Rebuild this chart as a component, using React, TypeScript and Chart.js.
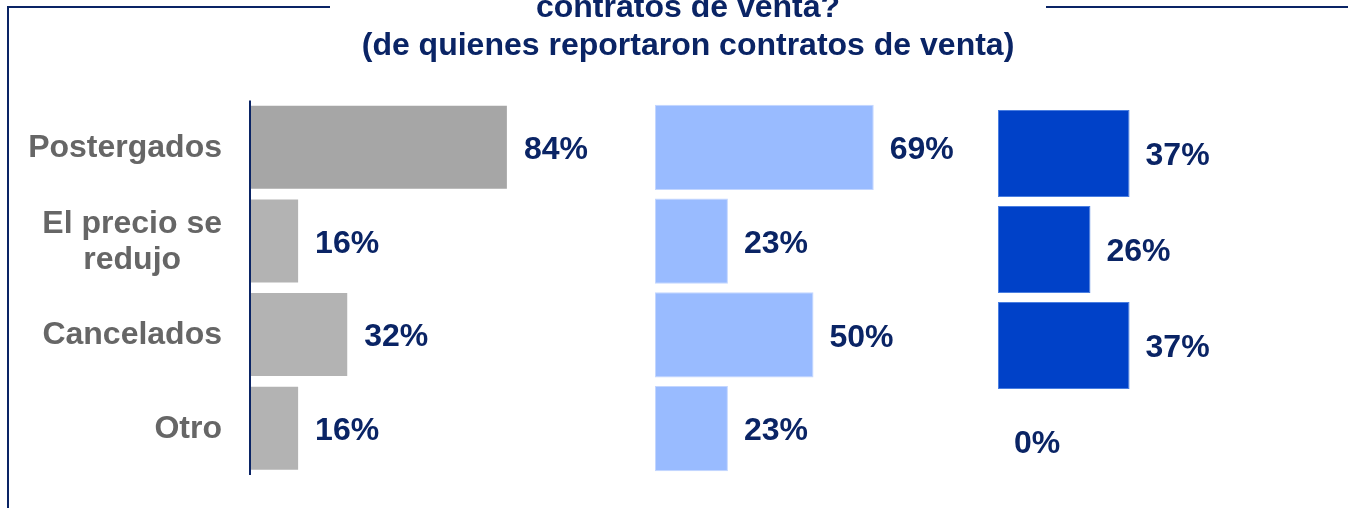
import React, { useEffect, useRef } from 'react';
import { Chart, registerables } from 'chart.js';

Chart.register(...registerables);

// ---- data ----
const categories: string[][] = [['Postergados'], ['El precio se', 'redujo'], ['Cancelados'], ['Otro']];
const seriesA: number[] = [84, 16, 32, 16];
const seriesB: number[] = [69, 23, 50, 23];
const seriesC: number[] = [37, 26, 37, 0];
const titleLines: string[] = ['contratos de venta?', '(de quienes reportaron contratos de venta)'];

const NAVY = '#0a2465';
const FONT = '"Liberation Sans", Arial, sans-serif';

type Panel = {
  data: number[];
  colors: string[];
  border: string;
  left: number;
  width: number;
  pad: { left: number; right: number; top: number; bottom: number };
  max: number;
  bar: number;
  showCats: boolean;
  axisLine: boolean;
};

const panels: Panel[] = [
  {
    data: seriesA,
    colors: ['#A6A6A6', '#B3B3B3', '#B3B3B3', '#B3B3B3'],
    border: 'rgba(0,0,0,0)',
    left: 0,
    width: 640,
    pad: { left: 250, right: 83, top: 100.5, bottom: 33 },
    max: 100,
    bar: 0.907,
    showCats: true,
    axisLine: true,
  },
  {
    data: seriesB,
    colors: ['#99BBFF', '#99BBFF', '#99BBFF', '#99BBFF'],
    border: '#C3D6FF',
    left: 640,
    width: 350,
    pad: { left: 15, right: 18, top: 100.5, bottom: 32.5 },
    max: 100,
    bar: 0.907,
    showCats: false,
    axisLine: false,
  },
  {
    data: seriesC,
    colors: ['#0041C8', '#0041C8', '#0041C8', '#0041C8'],
    border: '#4A7EE0',
    left: 990,
    width: 358,
    pad: { left: 8, right: 30, top: 105.5, bottom: 18.5 },
    max: 90,
    bar: 0.906,
    showCats: false,
    axisLine: false,
  },
];

function makeChart(canvas: HTMLCanvasElement, p: Panel) {
  const valuePlugin = {
    id: 'valueLabels',
    afterDatasetsDraw(chart: any) {
      const ctx = chart.ctx;
      const meta = chart.getDatasetMeta(0);
      ctx.save();
      ctx.font = `bold 32px ${FONT}`;
      ctx.fillStyle = NAVY;
      ctx.textAlign = 'left';
      ctx.textBaseline = 'middle';
      meta.data.forEach((el: any, i: number) => {
        ctx.fillText(`${p.data[i]}%`, el.x + 16, el.y + 3);
      });
      ctx.restore();
    },
  };
  const catPlugin = {
    id: 'catLabels',
    afterDraw(chart: any) {
      if (!p.showCats) return;
      const ctx = chart.ctx;
      const ys = chart.scales.y;
      ctx.save();
      ctx.font = `bold 32px ${FONT}`;
      ctx.fillStyle = '#666666';
      ctx.textAlign = 'center';
      ctx.textBaseline = 'middle';
      const right = chart.chartArea.left - 28;
      const lh = 36;
      categories.forEach((lines, i) => {
        const cy = ys.getPixelForValue(i);
        const maxW = Math.max(...lines.map((l) => ctx.measureText(l).width));
        const cx = right - maxW / 2;
        const y0 = cy - ((lines.length - 1) * lh) / 2;
        lines.forEach((l, j) => ctx.fillText(l, cx, y0 + j * lh + 1));
      });
      ctx.restore();
    },
  };
  const axisPlugin = {
    id: 'axisLine',
    afterDatasetsDraw(chart: any) {
      if (!p.axisLine) return;
      const { ctx, chartArea } = chart;
      ctx.save();
      ctx.strokeStyle = NAVY;
      ctx.lineWidth = 2;
      ctx.beginPath();
      ctx.moveTo(chartArea.left, chartArea.top);
      ctx.lineTo(chartArea.left, chartArea.bottom);
      ctx.stroke();
      ctx.restore();
    },
  };
  return new Chart(canvas, {
    type: 'bar',
    data: {
      labels: categories.map((c) => c.join(' ')),
      datasets: [
        {
          data: p.data,
          backgroundColor: p.colors,
          borderColor: p.border,
          borderWidth: 1,
          borderSkipped: false,
          barPercentage: p.bar,
          categoryPercentage: 1,
        },
      ],
    },
    options: {
      indexAxis: 'y',
      animation: false,
      responsive: false,
      layout: { padding: p.pad },
      plugins: { legend: { display: false }, tooltip: { enabled: false }, title: { display: false } },
      scales: {
        x: { display: false, min: 0, max: p.max },
        y: { display: false },
      },
    },
    plugins: [valuePlugin, catPlugin, axisPlugin],
  } as any);
}

function PanelChart({ p }: { p: Panel }) {
  const ref = useRef<HTMLCanvasElement>(null);
  useEffect(() => {
    if (!ref.current) return;
    const c = makeChart(ref.current, p);
    return () => c.destroy();
  }, [p]);
  return (
    <canvas
      ref={ref}
      width={p.width}
      height={508}
      style={{ position: 'absolute', left: p.left, top: 0, width: p.width, height: 508 }}
    />
  );
}

export default function App() {
  return (
    <div
      style={{
        position: 'fixed',
        left: 0,
        top: 0,
        width: 1348,
        height: 508,
        overflow: 'hidden',
        background: '#ffffff',
      }}
    >
      {panels.map((p, i) => (
        <PanelChart key={i} p={p} />
      ))}
      <div
        style={{
          position: 'absolute',
          left: 0,
          width: 1376,
          top: -13,
          textAlign: 'center',
          fontFamily: FONT,
          fontWeight: 'bold',
          fontSize: 32,
          lineHeight: '38px',
          color: NAVY,
          whiteSpace: 'nowrap',
        }}
      >
        {titleLines.map((t, i) => (
          <div key={i}>{t}</div>
        ))}
      </div>
      <div style={{ position: 'absolute', left: 7, top: 6, width: 323, height: 2, background: NAVY }} />
      <div style={{ position: 'absolute', left: 1046, top: 6, width: 302, height: 2, background: NAVY }} />
      <div style={{ position: 'absolute', left: 7, top: 6, width: 2, height: 502, background: NAVY }} />
    </div>
  );
}
